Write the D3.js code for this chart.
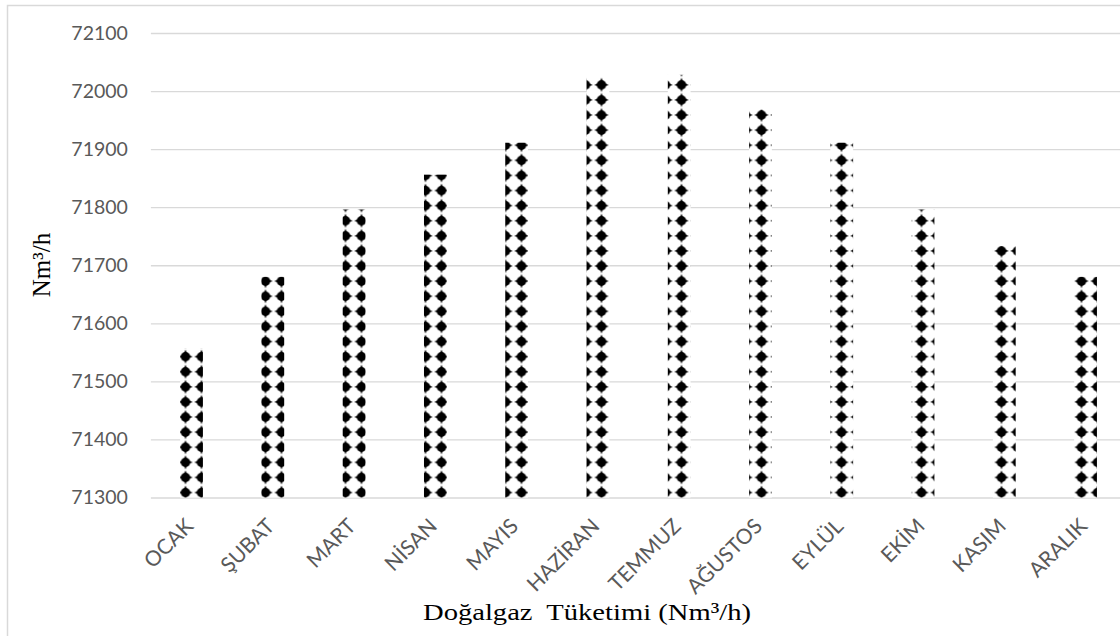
<!DOCTYPE html>
<html>
<head>
<meta charset="utf-8">
<script src="https://cdn.jsdelivr.net/npm/d3@7"></script>
<style>
  body { margin: 0; background: #fff; }
  svg { display: block; }
</style>
</head>
<body>
<svg id="chart" width="1120" height="636"></svg>
<script>
// Monthly natural gas consumption (Nm³/h)
const months = ["OCAK", "ŞUBAT", "MART", "NİSAN", "MAYIS", "HAZİRAN",
                "TEMMUZ", "AĞUSTOS", "EYLÜL", "EKİM", "KASIM", "ARALIK"];
const consumption = [71557, 71680, 71796, 71856, 71911, 72024,
                     72028, 71968, 71911, 71796, 71733, 71680];
const yTicks = [71300, 71400, 71500, 71600, 71700, 71800, 71900, 72000, 72100];
const yTitle = "Nm³/h";
const xTitle = "Doğalgaz  Tüketimi (Nm³/h)";

const svg = d3.select("#chart");
const W = 1120, H = 636;
const plot = { left: 150.9, right: 1126.2, top: 33, bottom: 497.5 };

// outer chart frame
svg.append("rect")
  .attr("x", 7.5).attr("y", 5.5)
  .attr("width", W + 20).attr("height", H + 20)
  .attr("fill", "#fff").attr("stroke", "#d9d9d9").attr("stroke-width", 1.5);

// diamond fill pattern for the columns
const defs = svg.append("defs");
const pw = 16, ph = 15.1;
const pat = defs.append("pattern")
  .attr("id", "diamonds")
  .attr("patternUnits", "userSpaceOnUse")
  .attr("x", 1.5).attr("y", 1.85)
  .attr("width", pw).attr("height", ph);
pat.append("rect").attr("width", pw).attr("height", ph).attr("fill", "#fff");
const g0 = pat.append("g").attr("transform", `translate(${pw / 2},${ph / 2})`);
g0.append("circle").attr("r", 4.7).attr("fill", "#000");
g0.append("path")
  .attr("d", "M0,-7 Q1.6,-1.6 7.2,0 Q1.6,1.6 0,7 Q-1.6,1.6 -7.2,0 Q-1.6,-1.6 0,-7 Z")
  .attr("fill", "#000");

const x = d3.scaleBand()
  .domain(months)
  .range([plot.left, plot.right])
  .paddingInner(0.72)
  .paddingOuter(0.36);

const y = d3.scaleLinear()
  .domain([yTicks[0], yTicks[yTicks.length - 1]])
  .range([plot.bottom, plot.top]);

// gridlines + value labels
const yAxis = svg.append("g")
  .attr("transform", `translate(${plot.left},0)`)
  .call(d3.axisLeft(y)
    .tickValues(yTicks)
    .tickSize(-(plot.right - plot.left))
    .tickPadding(23)
    .tickFormat(d3.format("d")));
yAxis.select(".domain").remove();
yAxis.selectAll(".tick line").attr("stroke", "#d9d9d9").attr("stroke-width", 1.3);
yAxis.selectAll(".tick text")
  .attr("fill", "#595959")
  .style("font-family", "Lato, 'Open Sans', sans-serif")
  .style("font-size", "19.5px");

// columns
svg.append("g")
  .selectAll("rect")
  .data(months.map((m, i) => ({ month: m, value: consumption[i] })))
  .join("rect")
  .attr("x", d => x(d.month))
  .attr("y", d => y(d.value))
  .attr("width", x.bandwidth())
  .attr("height", d => y(yTicks[0]) - y(d.value))
  .attr("fill", "url(#diamonds)");

// category labels
svg.append("g")
  .selectAll("text")
  .data(months)
  .join("text")
  .attr("transform", d => `translate(${x(d) + x.bandwidth() / 2 + 3},${plot.bottom + 30}) rotate(-45)`)
  .attr("text-anchor", "end")
  .attr("fill", "#595959")
  .style("font-family", "Lato, 'Open Sans', sans-serif")
  .style("font-size", "21px")
  .text(d => d);

// axis titles
svg.append("text")
  .attr("transform", `translate(50,265) rotate(-90)`)
  .attr("text-anchor", "middle")
  .attr("fill", "#000")
  .style("font-family", "'Liberation Serif', 'Times New Roman', serif")
  .style("font-size", "25px")
  .text(yTitle);

svg.append("text")
  .attr("x", 587).attr("y", 620)
  .attr("text-anchor", "middle")
  .attr("fill", "#000")
  .attr("textLength", 328)
  .attr("lengthAdjust", "spacingAndGlyphs")
  .style("font-family", "'Liberation Serif', 'Times New Roman', serif")
  .style("font-size", "24px")
  .style("white-space", "pre")
  .text(xTitle);
</script>
</body>
</html>
